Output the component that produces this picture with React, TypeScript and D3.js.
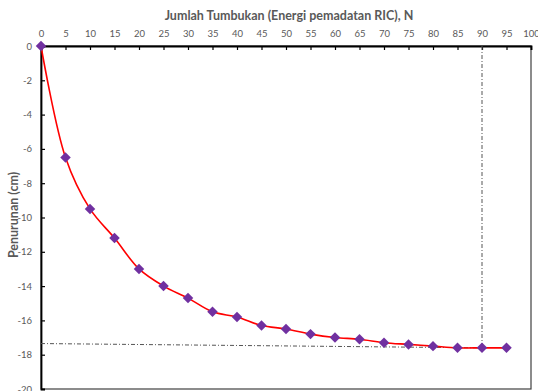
import * as d3 from "d3";
import React, { useEffect, useRef } from "react";

const blows = [0, 5, 10, 15, 20, 25, 30, 35, 40, 45, 50, 55, 60, 65, 70, 75, 80, 85, 90, 95];
const settlement = [0, -6.5, -9.5, -11.2, -13, -14, -14.7, -15.5, -15.8, -16.3, -16.5, -16.8, -17, -17.1, -17.3, -17.4, -17.5, -17.6, -17.6, -17.6];
const xTicks = d3.range(0, 101, 5);
const yTicks = d3.range(0, -21, -2);
// helper lines (dash-dot)
const horizLine = [
  { x: 0, y: -17.35 },
  { x: 90, y: -17.6 },
];
const vertLine = [
  { x: 90, y: 0 },
  { x: 90, y: -17.6 },
];

const font = "Lato, 'Open Sans', sans-serif";

export default function App() {
  const svgRef = useRef<SVGSVGElement | null>(null);
  const width = 538;
  const height = 391;

  useEffect(() => {
    if (!svgRef.current) return;
    const svg = d3.select(svgRef.current);
    svg.selectAll("*").remove();

    const margin = { top: 46, right: 7, bottom: 2, left: 41 };
    const x = d3.scaleLinear().domain([0, 100]).range([margin.left, width - margin.right]);
    const y = d3.scaleLinear().domain([0, -20]).range([margin.top, height - margin.bottom]);

    // plot border (right & bottom)
    svg
      .append("rect")
      .attr("x", x(0))
      .attr("y", y(0))
      .attr("width", x(100) - x(0))
      .attr("height", y(-20) - y(0))
      .attr("fill", "none")
      .attr("stroke", "#404040")
      .attr("stroke-width", 1.2);

    // top axis
    const xAxis = svg
      .append("g")
      .attr("transform", `translate(0,${y(0)})`)
      .call(d3.axisTop(x).tickValues(xTicks).tickSize(-4).tickPadding(9).tickFormat(d3.format("d")));
    xAxis.select(".domain").attr("stroke", "#000").attr("stroke-width", 1.8);
    xAxis.selectAll(".tick line").attr("stroke", "#000").attr("stroke-width", 1.2);
    xAxis
      .selectAll("text")
      .attr("fill", "#595959")
      .style("font-family", font)
      .style("font-size", "9.5px");

    // left axis
    const yAxis = svg
      .append("g")
      .attr("transform", `translate(${x(0)},0)`)
      .call(d3.axisLeft(y).tickValues(yTicks).tickSize(-4).tickPadding(9).tickFormat(d3.format("d")));
    yAxis.select(".domain").attr("stroke", "#000").attr("stroke-width", 1.8);
    yAxis.selectAll(".tick line").attr("stroke", "#000").attr("stroke-width", 1.2);
    yAxis
      .selectAll("text")
      .attr("fill", "#595959")
      .style("font-family", font)
      .style("font-size", "9.5px")
      .text((d: any) => (d === 0 ? "0" : `-${Math.abs(d)}`));

    // helper dash-dot lines
    const helper = d3
      .line<{ x: number; y: number }>()
      .x((d) => x(d.x))
      .y((d) => y(d.y));
    [horizLine, vertLine].forEach((pts) => {
      svg
        .append("path")
        .attr("d", helper(pts))
        .attr("fill", "none")
        .attr("stroke", "#555")
        .attr("stroke-width", 1)
        .attr("stroke-dasharray", "4 2 1 2");
    });

    // smoothed curve
    const pts = blows.map((b, i) => ({ x: b, y: settlement[i] }));
    const curve = d3
      .line<{ x: number; y: number }>()
      .x((d) => x(d.x))
      .y((d) => y(d.y))
      .curve(d3.curveCatmullRom.alpha(0.5));
    svg
      .append("path")
      .attr("d", curve(pts))
      .attr("fill", "none")
      .attr("stroke", "#ff0000")
      .attr("stroke-width", 1.6);

    // diamond markers
    const diamond = d3.symbol().type(d3.symbolDiamond2).size(70);
    svg
      .selectAll(".pt")
      .data(pts)
      .enter()
      .append("path")
      .attr("class", "pt")
      .attr("d", diamond)
      .attr("transform", (d) => `translate(${x(d.x)},${y(d.y)})`)
      .attr("fill", "#7030a0");

    // titles
    svg
      .append("text")
      .attr("x", 289)
      .attr("y", 20)
      .attr("text-anchor", "middle")
      .attr("fill", "#595959")
      .style("font-family", font)
      .style("font-size", "12.5px")
      .style("font-weight", "bold")
      .text("Jumlah Tumbukan (Energi pemadatan RIC), N");

    svg
      .append("text")
      .attr("transform", `translate(18,215) rotate(-90)`)
      .attr("text-anchor", "middle")
      .attr("fill", "#595959")
      .style("font-family", font)
      .style("font-size", "12.5px")
      .style("font-weight", "bold")
      .text("Penurunan (cm)");
  }, []);

  return (
    <div style={{ position: "fixed", left: 0, top: 0, width, height, background: "#fff" }}>
      <svg ref={svgRef} width={width} height={height} style={{ display: "block" }} />
    </div>
  );
}
